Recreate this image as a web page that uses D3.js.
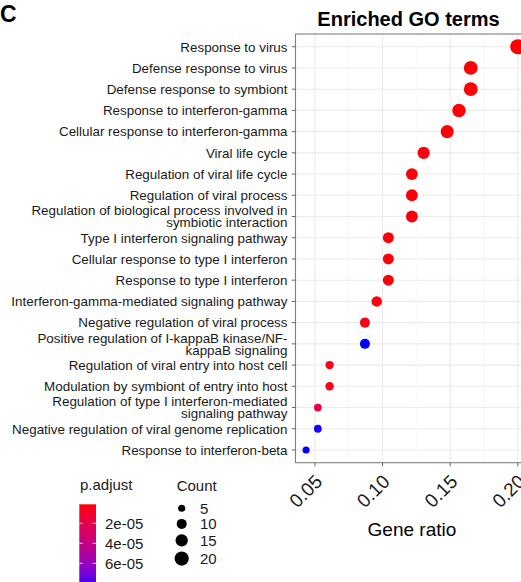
<!DOCTYPE html>
<html><head><meta charset="utf-8">
<script src="https://cdn.jsdelivr.net/npm/d3@7"></script>
<style>
html,body{margin:0;padding:0;background:#fff}
svg{display:block}
text{font-family:"Liberation Sans",Arial,Helvetica,sans-serif}
</style>
</head><body>
<svg id="chart" width="521" height="582"></svg>
<script>
// GO enrichment results (multi-line labels use "\n")
const terms = [
  "Response to virus",
  "Defense response to virus",
  "Defense response to symbiont",
  "Response to interferon-gamma",
  "Cellular response to interferon-gamma",
  "Viral life cycle",
  "Regulation of viral life cycle",
  "Regulation of viral process",
  "Regulation of biological process involved in\nsymbiotic interaction",
  "Type I interferon signaling pathway",
  "Cellular response to type I interferon",
  "Response to type I interferon",
  "Interferon-gamma-mediated signaling pathway",
  "Negative regulation of viral process",
  "Positive regulation of I-kappaB kinase/NF-\nkappaB signaling",
  "Regulation of viral entry into host cell",
  "Modulation by symbiont of entry into host",
  "Regulation of type I interferon-mediated\nsignaling pathway",
  "Negative regulation of viral genome replication",
  "Response to interferon-beta"
];
const geneRatio = [0.2000,0.1652,0.1652,0.1565,0.1478,0.1304,0.1217,0.1217,0.1217,0.1043,
                   0.1043,0.1043,0.0957,0.0870,0.0870,0.0609,0.0609,0.0522,0.0522,0.0435];
const counts = [23,19,19,18,17,15,14,14,14,12,12,12,11,10,10,7,7,6,6,5];
const pAdjust = [1.0e-6,1.5e-6,1.6e-6,1.8e-6,2.0e-6,3.5e-6,2.4e-6,2.6e-6,2.8e-6,2.2e-6,
                 2.3e-6,2.4e-6,3.0e-6,4.0e-6,8.3e-5,4.2e-6,4.4e-6,1.5e-5,8.2e-5,8.3e-5];
const xTicks = [0.05,0.10,0.15,0.20];
const xMinor = [0.075,0.125,0.175];
const colorTicks = [2e-5,4e-5,6e-5];
const sizeBreaks = [5,10,15,20];
const panelLetter = "C";
const title = "Enriched GO terms";
const xTitle = "Gene ratio";

const svg = d3.select("#chart");
svg.append("rect").attr("width",521).attr("height",582).attr("fill","#fff");

// panel geometry
const P = {left:295.5, top:34, bottom:462.7, right:528.4};

const ext = d3.extent(geneRatio);
const pad = (ext[1]-ext[0])*0.05;
const x = d3.scaleLinear().domain([ext[0]-pad, ext[1]+pad]).range([P.left, P.right]);
const y = d3.scalePoint().domain(terms).range([P.top, P.bottom]).padding(0.6);
const r = d3.scaleSqrt().domain([0, d3.max(counts)]).range([0, 7.6]);
const pExt = d3.extent(pAdjust);
const color = d3.scaleLinear().domain(pExt).range(["#ff0000","#0000ff"]).interpolate(d3.interpolateLab);

const data = terms.map((t,i)=>({term:t, ratio:geneRatio[i], count:counts[i], p:pAdjust[i]}));

// grid
const g = svg.append("g");
g.selectAll(".minor").data(xMinor).join("line")
  .attr("x1",d=>x(d)).attr("x2",d=>x(d)).attr("y1",P.top).attr("y2",P.bottom)
  .attr("stroke","#f2f2f2").attr("stroke-width",0.6);
g.selectAll(".majx").data(xTicks).join("line")
  .attr("x1",d=>x(d)).attr("x2",d=>x(d)).attr("y1",P.top).attr("y2",P.bottom)
  .attr("stroke","#ebebeb").attr("stroke-width",1.1);
g.selectAll(".majy").data(terms).join("line")
  .attr("x1",P.left).attr("x2",P.right).attr("y1",d=>y(d)).attr("y2",d=>y(d))
  .attr("stroke","#ebebeb").attr("stroke-width",1.1);

// points
svg.append("g").selectAll("circle").data(data).join("circle")
  .attr("cx",d=>x(d.ratio)).attr("cy",d=>y(d.term))
  .attr("r",d=>r(d.count)).attr("fill",d=>color(d.p));

// panel border
svg.append("rect").attr("x",P.left).attr("y",P.top)
  .attr("width",P.right-P.left).attr("height",P.bottom-P.top)
  .attr("fill","none").attr("stroke","#7f7f7f").attr("stroke-width",1.1);

// y axis ticks and labels
const ya = svg.append("g");
ya.selectAll("line").data(terms).join("line")
  .attr("x1",P.left-3.7).attr("x2",P.left).attr("y1",d=>y(d)).attr("y2",d=>y(d))
  .attr("stroke","#666").attr("stroke-width",1);
const lab = ya.selectAll("text").data(terms).join("text")
  .attr("text-anchor","end").attr("font-size",13.4).attr("fill","#1a1a1a")
  .attr("transform",d=>`translate(${P.left-8},${y(d)})`);
lab.each(function(d){
  const lines = d.split("\n");
  const lh = 12.2;
  const t = d3.select(this);
  lines.forEach((s,k)=>{
    t.append("tspan").attr("x",0)
      .attr("y",(k-(lines.length-1)/2)*lh).attr("dy","0.36em").text(s);
  });
});

// x axis ticks and labels
const xa = svg.append("g");
xa.selectAll("line").data(xTicks).join("line")
  .attr("x1",d=>x(d)).attr("x2",d=>x(d)).attr("y1",P.bottom).attr("y2",P.bottom+3.7)
  .attr("stroke","#666").attr("stroke-width",1);
xa.selectAll("text").data(xTicks).join("text")
  .attr("text-anchor","end").attr("font-size",19).attr("fill","#1a1a1a")
  .attr("transform",d=>`translate(${x(d)+8.5},${P.bottom+20})rotate(-45)`)
  .text(d3.format(".2f"));

svg.append("text").attr("x",(P.left+P.right)/2).attr("y",535.7)
  .attr("text-anchor","middle").attr("font-size",19).attr("fill","#000").text(xTitle);

// titles
svg.append("text").attr("x",408.5).attr("y",25.5).attr("text-anchor","middle")
  .attr("font-size",20).attr("font-weight","bold").attr("fill","#000").text(title);
svg.append("text").attr("x",0).attr("y",21.7)
  .attr("font-size",23).attr("font-weight","bold").attr("fill","#000").text(panelLetter);

// colour legend
const cl = svg.append("g");
cl.append("text").attr("x",80).attr("y",490).attr("font-size",15).attr("fill","#1a1a1a").text("p.adjust");
const barX = 79.3, barW = 16.7, barTop = 504.3;
const ly = d3.scaleLinear().domain(pExt).range([barTop, barTop + (pExt[1]-pExt[0])*1e6]);
const grad = svg.append("defs").append("linearGradient").attr("id","pgrad")
  .attr("x1",0).attr("x2",0).attr("y1",0).attr("y2",1);
d3.range(0,1.0001,0.05).forEach(t=>{
  grad.append("stop").attr("offset",t).attr("stop-color",color(pExt[0]+t*(pExt[1]-pExt[0])));
});
cl.append("rect").attr("x",barX).attr("y",ly.range()[0]).attr("width",barW)
  .attr("height",ly.range()[1]-ly.range()[0]).attr("fill","url(#pgrad)");
colorTicks.forEach(v=>{
  const yy = ly(v);
  cl.append("line").attr("x1",barX).attr("x2",barX+3.3).attr("y1",yy).attr("y2",yy)
    .attr("stroke","#fff").attr("stroke-opacity",0.8).attr("stroke-width",1);
  cl.append("line").attr("x1",barX+barW-3.3).attr("x2",barX+barW).attr("y1",yy).attr("y2",yy)
    .attr("stroke","#fff").attr("stroke-opacity",0.8).attr("stroke-width",1);
});
const fmtE = v => d3.format(".0e")(v).replace(/e([+-])(\d)$/,"e$10$2");
cl.selectAll(".ct").data(colorTicks).join("text")
  .attr("x",105).attr("y",d=>ly(d)).attr("dy","0.36em").attr("font-size",15)
  .attr("fill","#1a1a1a").text(fmtE);

// size legend
const sl = svg.append("g");
sl.append("text").attr("x",176.7).attr("y",490.7).attr("font-size",15).attr("fill","#1a1a1a").text("Count");
const keyH = c => Math.max(15.6, 2*r(c)+5);
let cy = 508.3;
sizeBreaks.forEach((c,i)=>{
  if(i>0) cy += (keyH(sizeBreaks[i-1])+keyH(c))/2;
  sl.append("circle").attr("cx",181.7).attr("cy",cy).attr("r",r(c)).attr("fill","#000");
  sl.append("text").attr("x",200).attr("y",cy).attr("dy","0.36em").attr("font-size",15)
    .attr("fill","#1a1a1a").text(c);
});
</script>
</body></html>
